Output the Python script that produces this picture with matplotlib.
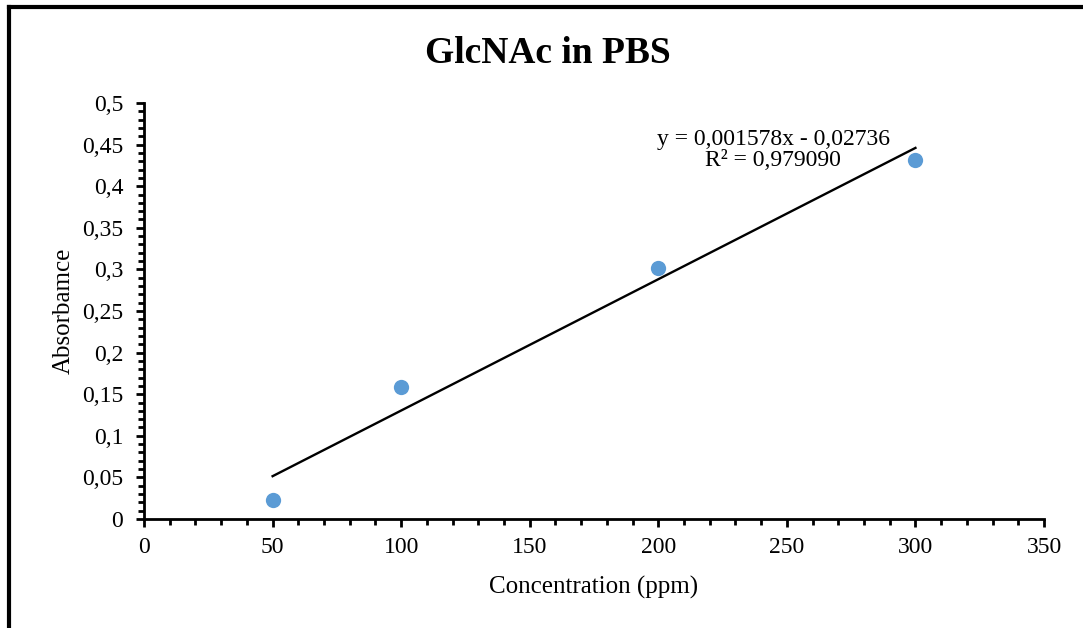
import numpy as np
import matplotlib.pyplot as plt
from matplotlib.ticker import MultipleLocator, FuncFormatter
from matplotlib.lines import Line2D

conc = [50, 100, 200, 300]
absorb = [0.023, 0.159, 0.302, 0.432]
eq_text = "y = 0,001578x - 0,02736\nR² = 0,979090"

plt.rcParams['font.family'] = ['Liberation Serif', 'DejaVu Serif']

fig = plt.figure(figsize=(10.83, 6.28), dpi=100)
ax = fig.add_axes([0.133, 0.1736, 0.831, 0.6624])

# linea de tendencia
m, b = np.polyfit(conc, absorb, 1)
xs = np.array([min(conc), max(conc)])
ax.plot(xs, m * xs + b, color='black', linewidth=1.7, zorder=2)
ax.plot(conc, absorb, 'o', color='#5B9BD5', markersize=11, markeredgewidth=0, zorder=3)

ax.set_xlim(0, 350)
ax.set_ylim(0, 0.5)
ax.xaxis.set_major_locator(MultipleLocator(50))
ax.xaxis.set_minor_locator(MultipleLocator(10))
ax.yaxis.set_major_locator(MultipleLocator(0.05))
ax.yaxis.set_minor_locator(MultipleLocator(0.01))
ax.yaxis.set_major_formatter(FuncFormatter(lambda v, p: ('%g' % round(v, 2)).replace('.', ',')))

for s in ['top', 'right']:
    ax.spines[s].set_visible(False)
for s in ['left', 'bottom']:
    ax.spines[s].set_linewidth(2)

ax.tick_params(which='major', direction='out', length=6, width=2, labelsize=17)
ax.tick_params(axis='y', which='major', pad=9)
ax.tick_params(axis='x', which='major', pad=7)
ax.tick_params(which='minor', direction='out', length=4, width=2)

ax.set_xlabel('Concentration (ppm)', fontsize=18, labelpad=13)
ax.set_ylabel('Absorbamce', fontsize=18, labelpad=5)

fig.text(0.506, 0.915, 'GlcNAc in PBS', ha='center', va='center', fontsize=27, fontweight='bold')
fig.text(0.714, 0.761, eq_text, ha='center', va='center', fontsize=17, linespacing=1.05)

# marco recortado (izquierda y arriba)
fig.add_artist(Line2D([0.0085, 0.0085], [0, 0.989], transform=fig.transFigure, color='black', linewidth=3))
fig.add_artist(Line2D([0.0085, 1.0], [0.989, 0.989], transform=fig.transFigure, color='black', linewidth=3))

fig.savefig('out.png', dpi=100)
